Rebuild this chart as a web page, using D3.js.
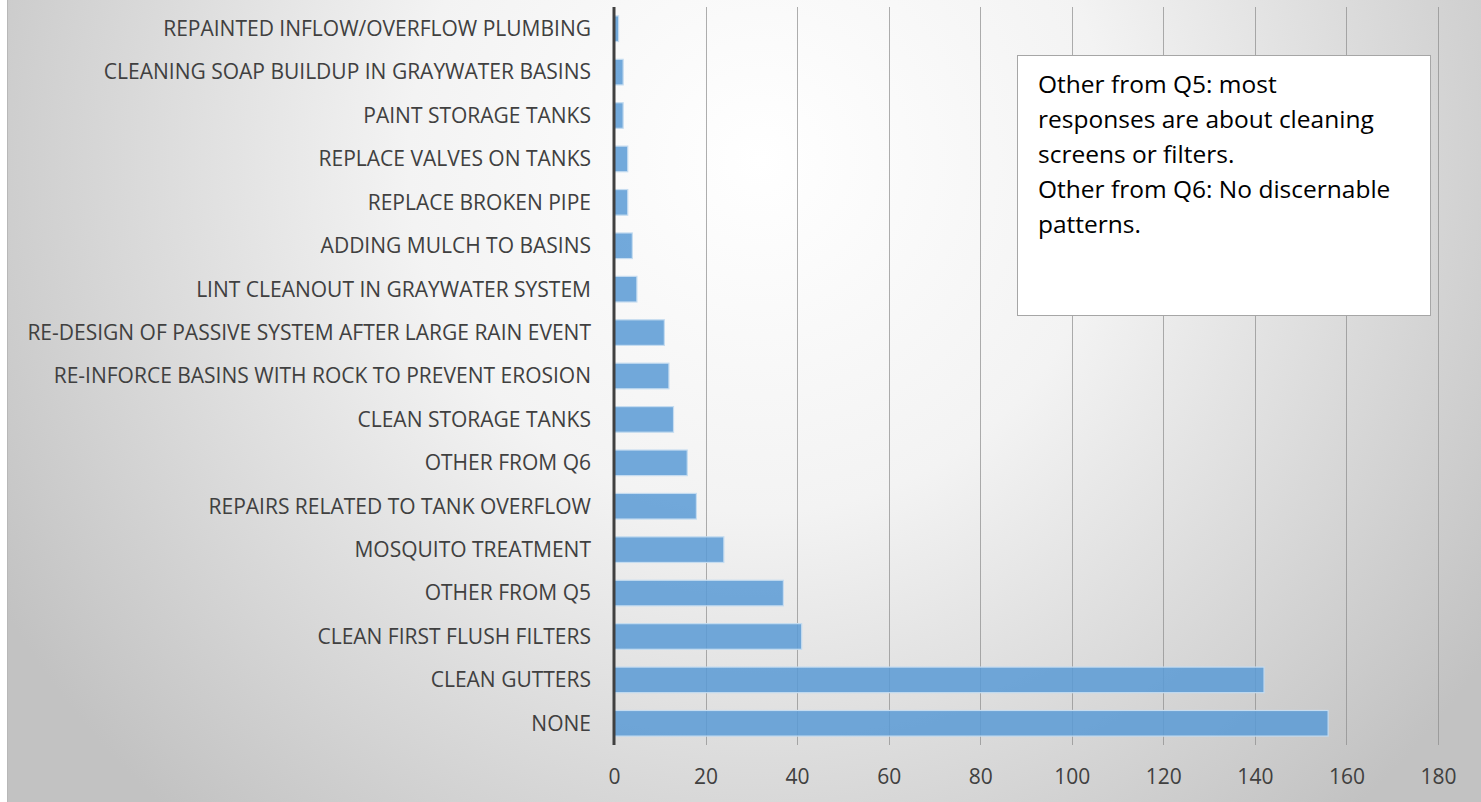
<!DOCTYPE html>
<html>
<head>
<meta charset="utf-8">
<script src="https://cdn.jsdelivr.net/npm/d3@7"></script>
<style>
  body { margin: 0; background: #fff; }
  svg { display: block; }
</style>
</head>
<body>
<svg width="1481" height="802"></svg>
<script>
// categories, top to bottom
var categories = [
  "REPAINTED INFLOW/OVERFLOW PLUMBING",
  "CLEANING SOAP BUILDUP IN GRAYWATER BASINS",
  "PAINT STORAGE TANKS",
  "REPLACE VALVES ON TANKS",
  "REPLACE BROKEN PIPE",
  "ADDING MULCH TO BASINS",
  "LINT CLEANOUT IN GRAYWATER SYSTEM",
  "RE-DESIGN OF PASSIVE SYSTEM AFTER LARGE RAIN EVENT",
  "RE-INFORCE BASINS WITH ROCK TO PREVENT EROSION",
  "CLEAN STORAGE TANKS",
  "OTHER FROM Q6",
  "REPAIRS RELATED TO TANK OVERFLOW",
  "MOSQUITO TREATMENT",
  "OTHER FROM Q5",
  "CLEAN FIRST FLUSH FILTERS",
  "CLEAN GUTTERS",
  "NONE"
];
var counts = [1, 2, 2, 3, 3, 4, 5, 11, 12, 13, 16, 18, 24, 37, 41, 142, 156];
var xTicks = [0, 20, 40, 60, 80, 100, 120, 140, 160, 180];
var noteLines = [
  "Other from Q5: most",
  "responses are about cleaning",
  "screens or filters.",
  "Other from Q6: No discernable",
  "patterns."
];

var data = categories.map(function (c, i) {
  return { name: c, value: counts[i] };
});

var svg = d3.select("svg");
var W = +svg.attr("width"), H = +svg.attr("height");
var plot = { left: 614, right: 1438, top: 7, bottom: 745 };

// background gradient
var defs = svg.append("defs");
var grad = defs.append("radialGradient")
  .attr("id", "bg")
  .attr("gradientUnits", "userSpaceOnUse")
  .attr("cx", 760).attr("cy", 160).attr("r", 880);
grad.append("stop").attr("offset", "0%").attr("stop-color", "#ffffff");
grad.append("stop").attr("offset", "40%").attr("stop-color", "#f3f3f3");
grad.append("stop").attr("offset", "100%").attr("stop-color", "#c2c2c2");

svg.append("rect").attr("width", W).attr("height", H).attr("fill", "#fff");
svg.append("rect")
  .attr("x", 7).attr("y", 0)
  .attr("width", W - 7).attr("height", H)
  .attr("fill", "url(#bg)");
svg.append("line")
  .attr("x1", 7.5).attr("x2", 7.5).attr("y1", 0).attr("y2", H)
  .attr("stroke", "#b8b8b8").attr("stroke-width", 1);

var x = d3.scaleLinear().domain([0, 180]).range([plot.left, plot.right]);
var y = d3.scaleBand()
  .domain(categories)
  .range([plot.top, plot.bottom])
  .paddingInner(0.41)
  .paddingOuter(0.205);

// gridlines
svg.append("g")
  .selectAll("line")
  .data(xTicks.filter(function (d) { return d > 0; }))
  .join("line")
  .attr("x1", function (d) { return Math.round(x(d)) + 0.5; })
  .attr("x2", function (d) { return Math.round(x(d)) + 0.5; })
  .attr("y1", plot.top)
  .attr("y2", plot.bottom)
  .attr("stroke", "#8c8c8c")
  .attr("stroke-opacity", 0.7)
  .attr("stroke-width", 1);

// bars
svg.append("g")
  .selectAll("rect")
  .data(data)
  .join("rect")
  .attr("x", x(0))
  .attr("y", function (d) { return y(d.name); })
  .attr("width", function (d) { return x(d.value) - x(0); })
  .attr("height", y.bandwidth())
  .attr("fill", "#5b9bd5")
  .attr("fill-opacity", 0.86)
  .attr("stroke", "#c5dcf0")
  .attr("stroke-width", 1.2);

// category labels
svg.append("g")
  .selectAll("text")
  .data(categories)
  .join("text")
  .attr("x", plot.left - 23)
  .attr("y", function (d) { return y(d) + y.bandwidth() / 2; })
  .attr("dy", "0.35em")
  .attr("text-anchor", "end")
  .attr("font-family", "'Open Sans', sans-serif")
  .attr("font-size", 21)
  .attr("fill", "#404040")
  .text(function (d) { return d; });

// value axis labels
var xAxis = svg.append("g")
  .attr("transform", "translate(0," + plot.bottom + ")")
  .call(d3.axisBottom(x).tickValues(xTicks).tickSize(0).tickPadding(24));
xAxis.select(".domain").remove();
xAxis.selectAll("text")
  .attr("font-family", "'Open Sans', sans-serif")
  .attr("font-size", 21)
  .attr("fill", "#404040");

// vertical category axis line
svg.append("line")
  .attr("x1", x(0)).attr("x2", x(0))
  .attr("y1", plot.top).attr("y2", plot.bottom)
  .attr("stroke", "#404040")
  .attr("stroke-width", 3);

// note box
var box = svg.append("g").attr("transform", "translate(1017,55)");
box.append("rect")
  .attr("x", 0.5).attr("y", 0.5)
  .attr("width", 413).attr("height", 260)
  .attr("fill", "#fff")
  .attr("stroke", "#a6a6a6")
  .attr("stroke-width", 1);
box.selectAll("text")
  .data(noteLines)
  .join("text")
  .attr("x", 21)
  .attr("y", function (d, i) { return 38 + i * 35; })
  .attr("font-family", "'Open Sans', sans-serif")
  .attr("font-size", 24.5)
  .attr("fill", "#000")
  .text(function (d) { return d; });
</script>
</body>
</html>
